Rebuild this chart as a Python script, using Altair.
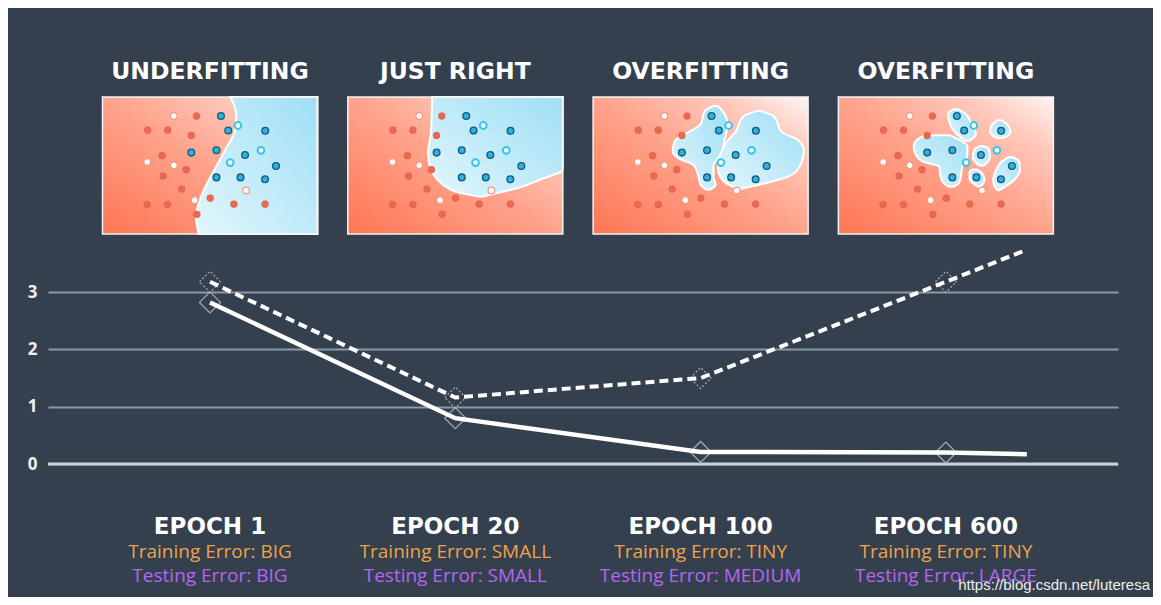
import altair as alt
import pandas as pd

# ---------------- text ----------------
TITLES = ["UNDERFITTING", "JUST RIGHT", "OVERFITTING", "OVERFITTING"]
EPOCHS = ["EPOCH 1", "EPOCH 20", "EPOCH 100", "EPOCH 600"]
TRAIN_TXT = ["Training Error: BIG", "Training Error: SMALL", "Training Error: TINY", "Training Error: TINY"]
TEST_TXT = ["Testing Error: BIG", "Testing Error: SMALL", "Testing Error: MEDIUM", "Testing Error: LARGE"]
WATERMARK = "https://blog.csdn.net/luteresa"

# ---------------- error curves ----------------
STEP = [0, 1, 2, 3, 3.33]
TRAIN_ERR = [2.82, 0.80, 0.21, 0.20, 0.17]
TEST_ERR = [3.18, 1.16, 1.50, 3.18, 3.74]
MARKER = [True, True, True, True, False]

# ---------------- scatter points (panel-local: u left->right, v top->bottom) ----------------
RED_U = [0.437, 0.210, 0.303, 0.413, 0.277, 0.389, 0.282, 0.368, 0.208, 0.303, 0.501, 0.439, 0.611, 0.756]
RED_V = [0.139, 0.242, 0.242, 0.281, 0.428, 0.531, 0.577, 0.672, 0.785, 0.785, 0.738, 0.856, 0.782, 0.782]
WRED_U = [0.332, 0.208, 0.332, 0.429, 0.668]
WRED_V = [0.139, 0.474, 0.499, 0.753, 0.682]
WCYAN_U = [0.630, 0.737, 0.594]
WCYAN_V = [0.208, 0.389, 0.479]
BLUE_U = [0.551, 0.585, 0.757, 0.413, 0.530, 0.663, 0.807, 0.530, 0.642, 0.756]
BLUE_V = [0.139, 0.244, 0.247, 0.406, 0.389, 0.423, 0.504, 0.587, 0.587, 0.601]

# ---------------- blue decision regions: rows of (v, u_left, u_right) ----------------
UNDER_V = [0.0, 0.07, 0.14, 0.245, 0.38, 0.48, 0.63, 0.75, 0.87, 1.0]
UNDER_U = [0.594, 0.615, 0.622, 0.616, 0.573, 0.539, 0.487, 0.453, 0.435, 0.447]

JUST_V = [0.0, 0.26, 0.41, 0.53, 0.60, 0.66, 0.70, 0.726]
JUST_L = [0.392, 0.387, 0.373, 0.387, 0.415, 0.46, 0.52, 0.61]
JUST_R = [1.0, 1.0, 1.0, 1.0, 0.90, 0.80, 0.70, 0.63]

BLOBS = [
    # (panel, v list, left list, right list)
    (2, [0.066, 0.10, 0.20, 0.26, 0.32, 0.40, 0.45, 0.50, 0.58, 0.64, 0.675],
        [0.56, 0.52, 0.50, 0.44, 0.38, 0.37, 0.40, 0.47, 0.49, 0.50, 0.525],
        [0.58, 0.60, 0.625, 0.62, 0.61, 0.60, 0.58, 0.56, 0.56, 0.57, 0.545]),
    (2, [0.103, 0.14, 0.26, 0.31, 0.39, 0.51, 0.58, 0.63, 0.67],
        [0.76, 0.70, 0.66, 0.63, 0.60, 0.58, 0.59, 0.62, 0.67],
        [0.78, 0.84, 0.88, 0.95, 0.98, 0.96, 0.91, 0.80, 0.69]),
    (3, [0.09, 0.12, 0.20, 0.27, 0.32],
        [0.535, 0.51, 0.52, 0.55, 0.59],
        [0.555, 0.59, 0.62, 0.64, 0.61]),
    (3, [0.17, 0.20, 0.25, 0.29, 0.30],
        [0.74, 0.715, 0.705, 0.725, 0.745],
        [0.76, 0.785, 0.80, 0.78, 0.755]),
    (3, [0.28, 0.32, 0.36, 0.42, 0.47, 0.51, 0.58, 0.63, 0.655],
        [0.40, 0.36, 0.35, 0.36, 0.39, 0.47, 0.475, 0.49, 0.515],
        [0.52, 0.57, 0.60, 0.60, 0.59, 0.575, 0.57, 0.56, 0.535]),
    (3, [0.36, 0.38, 0.44, 0.48, 0.50],
        [0.655, 0.635, 0.625, 0.64, 0.655],
        [0.675, 0.70, 0.705, 0.69, 0.675]),
    (3, [0.53, 0.55, 0.60, 0.64, 0.655],
        [0.625, 0.61, 0.61, 0.635, 0.65],
        [0.645, 0.665, 0.68, 0.67, 0.66]),
    (3, [0.44, 0.47, 0.53, 0.60, 0.65, 0.68],
        [0.79, 0.76, 0.735, 0.72, 0.725, 0.74],
        [0.81, 0.84, 0.845, 0.82, 0.78, 0.75]),
]

# ---------------- layout constants (in scale units) ----------------
PW = 0.8765      # panel width in epoch-step units
PH = 2.391       # panel height in error units
PTOP = 6.405     # panel top in error units
TITLE_Y = 6.84
EPOCH_Y = -1.10
TRAIN_Y = -1.54
TEST_Y = -1.96
WM_X = 3.832
WM_Y = -2.115

BG = "#34404d"

xs = alt.Scale(domain=[-0.6604, 3.7016], nice=False, zero=False)
ys = alt.Scale(domain=[-2.321, 7.958], nice=False, zero=False)
yaxis = alt.Axis(values=[0, 1, 2, 3], grid=True, gridColor="#8c99a7", gridWidth=2,
                 domain=False, ticks=False, labelPadding=11, labelFontSize=17,
                 labelFont="Open Sans", labelFontWeight="bold", labelColor="#eef0f2",
                 title=None, format="d")


def X(f, **kw):
    return alt.X(f, type="quantitative", scale=xs, axis=None, **kw)


def Y(f):
    return alt.Y(f, type="quantitative", scale=ys, axis=yaxis)


def to_x(i, u):
    return i + (u - 0.5) * PW


def to_y(v):
    return PTOP - v * PH


# panels
panels = pd.DataFrame({"i": list(range(4))})
panels["x0"] = panels["i"] - PW / 2
panels["x1"] = panels["i"] + PW / 2
panels["yt"] = PTOP
panels["yb"] = PTOP - PH

panel_grad = alt.LinearGradient(
    gradient="linear", x1=0, y1=1, x2=1, y2=0,
    stops=[alt.GradientStop(color="#ff7654", offset=0),
           alt.GradientStop(color="#ffa38c", offset=0.5),
           alt.GradientStop(color="#ffcabd", offset=0.8),
           alt.GradientStop(color="#fff6f3", offset=1)])
blue_grad = alt.LinearGradient(
    gradient="linear", x1=0, y1=1, x2=1, y2=0,
    stops=[alt.GradientStop(color="#e2f6fc", offset=0),
           alt.GradientStop(color="#9edff5", offset=1)])

panel_rect = alt.Chart(panels).mark_rect(fill=panel_grad).encode(
    x=X("x0"), x2="x1", y=Y("yt"), y2="yb")
panel_border = alt.Chart(panels).mark_rect(fillOpacity=0, stroke="#f3f3f3", strokeWidth=1.5).encode(
    x=X("x0"), x2="x1", y=Y("yt"), y2="yb")

# blue regions (one layer per region so each is a single closed area)
def region_frame(i, vs, ls, rs):
    return pd.DataFrame({"Y": [to_y(v) for v in vs],
                         "XL": [to_x(i, u) for u in ls],
                         "XR": [to_x(i, u) for u in rs]})


region_frames = [region_frame(0, UNDER_V, UNDER_U, [1.0] * len(UNDER_V)),
                 region_frame(1, JUST_V, JUST_L, JUST_R)]
for p, vs, ls, rs in BLOBS:
    region_frames.append(region_frame(p, vs, ls, rs))

region_layers = [
    alt.Chart(df).mark_area(
        orient="horizontal", interpolate="monotone", fill=blue_grad,
        stroke="white", strokeWidth=2, fillOpacity=1).encode(
        y=Y("Y"), x=X("XL", stack=False), x2="XR")
    for df in region_frames
]


# scatter points
def pts(us, vs):
    r = []
    for i in range(4):
        for u, v in zip(us, vs):
            r.append({"X": to_x(i, u), "Y": to_y(v)})
    return pd.DataFrame(r)


def point_layer(us, vs, fill, stroke, sw):
    return alt.Chart(pts(us, vs)).mark_point(
        shape="circle", size=46, fill=fill, stroke=stroke, strokeWidth=sw,
        opacity=1, fillOpacity=1).encode(x=X("X"), y=Y("Y"))


red_layer = point_layer(RED_U, RED_V, "#ea6a50", "#dc5b43", 0.6)
blue_layer = point_layer(BLUE_U, BLUE_V, "#29b2e6", "#1d5a78", 1.3)
wred_layer = point_layer(WRED_U, WRED_V, "#ffffff", "#f19a84", 1.2)
wcyan_layer = point_layer(WCYAN_U, WCYAN_V, "#ffffff", "#33c6f0", 2)

# error curves
curves = pd.DataFrame({"step": STEP, "train": TRAIN_ERR, "test": TEST_ERR, "m": MARKER})
marks = curves[curves["m"]]

zero_rule = alt.Chart(pd.DataFrame({"z": [0]})).mark_rule(color="#c9d0d8", strokeWidth=3).encode(y=Y("z"))

train_dia = alt.Chart(marks).mark_point(shape="diamond", size=441, stroke="#a3adb8",
                                        strokeWidth=1.2, fillOpacity=0).encode(x=X("step"), y=Y("train"))
test_dia = alt.Chart(marks).mark_point(shape="diamond", size=441, stroke="#a3adb8",
                                       strokeWidth=1.2, fillOpacity=0, strokeDash=[2, 2]).encode(x=X("step"), y=Y("test"))
train_line = alt.Chart(curves).mark_line(color="white", strokeWidth=4.5).encode(
    x=X("step"), y=Y("train"), order="step:Q")
test_line = alt.Chart(curves).mark_line(color="white", strokeWidth=4, strokeDash=[9, 5]).encode(
    x=X("step"), y=Y("test"), order="step:Q")

# text
txt = pd.DataFrame({"i": list(range(4)), "title": TITLES, "epoch": EPOCHS,
                    "train": TRAIN_TXT, "test": TEST_TXT})
txt["ty"] = TITLE_Y
txt["ey"] = EPOCH_Y
txt["try"] = TRAIN_Y
txt["tey"] = TEST_Y

title_layer = alt.Chart(txt).mark_text(font="DejaVu Sans", fontWeight="bold", fontSize=23.5,
                                       color="#ffffff", baseline="middle", align="center").encode(
    x=X("i"), y=Y("ty"), text="title:N")
epoch_layer = alt.Chart(txt).mark_text(font="DejaVu Sans", fontWeight="bold", fontSize=23,
                                       color="#ffffff", baseline="middle", align="center").encode(
    x=X("i"), y=Y("ey"), text="epoch:N")
train_txt_layer = alt.Chart(txt).mark_text(font="Open Sans", fontSize=19, color="#f0a24a",
                                           baseline="middle", align="center").encode(
    x=X("i"), y=Y("try"), text="train:N")
test_txt_layer = alt.Chart(txt).mark_text(font="Open Sans", fontSize=19, color="#b466f0",
                                          baseline="middle", align="center").encode(
    x=X("i"), y=Y("tey"), text="test:N")

wm = pd.DataFrame({"x": [WM_X], "y": [WM_Y], "t": [WATERMARK]})
wm_layer = alt.Chart(wm).mark_text(font="Liberation Sans", fontSize=15, color="#eeeeee",
                                   baseline="middle", align="right").encode(
    x=X("x"), y=Y("y"), text="t:N")

chart = alt.layer(
    panel_rect, *region_layers, red_layer, wred_layer, wcyan_layer, blue_layer, panel_border,
    zero_rule, train_dia, test_dia, train_line, test_line,
    title_layer, epoch_layer, train_txt_layer, test_txt_layer, wm_layer
).properties(
    width=1070, height=589,
    padding={"left": 40, "top": 0, "right": 35, "bottom": 0},
    autosize=alt.AutoSizeParams(type="none"),
    background=BG,
).configure_view(strokeWidth=0)

chart.save("out.html", embed_options={"renderer": "svg", "actions": False})
